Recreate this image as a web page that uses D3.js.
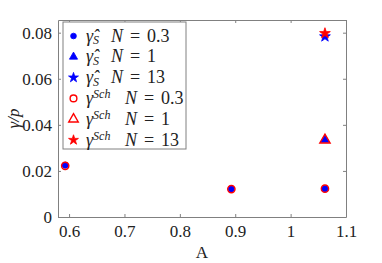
<!DOCTYPE html>
<html>
<head>
<meta charset="utf-8">
<script src="https://cdn.jsdelivr.net/npm/d3@7"></script>
<style>
  body { margin: 0; background: #fff; }
  text { font-family: "Liberation Serif", "DejaVu Serif", serif; fill: #222; }
</style>
</head>
<body>
<div id="chart"></div>
<script>
// values
const aN03 = [0.593, 0.893, 1.062];
const gHatN03 = [0.0225, 0.0122, 0.0123];
const gSchN03 = [0.0222, 0.0121, 0.0123];
const aN1 = [1.062];
const gHatN1 = [0.0335];
const gSchN1 = [0.0334];
const aN13 = [1.062];
const gHatN13 = [0.0783];
const gSchN13 = [0.0797];
const xTicks = [0.6, 0.7, 0.8, 0.9, 1, 1.1];
const yTicks = [0, 0.02, 0.04, 0.06, 0.08];
const nLabels = ['0.3', '1', '13'];

const W = 382, H = 263;
const m = {l: 58, r: 36, t: 20, b: 46};
const svg = d3.select('#chart').append('svg').attr('width', W).attr('height', H);

const x = d3.scaleLinear().domain([0.58, 1.1]).range([m.l, W - m.r]);
const y = d3.scaleLinear().domain([0, 0.0855]).range([H - m.b, m.t]);

const axisCol = '#808080';
const g = svg.append('g');

// box with inward ticks
const axB = g.append('g').attr('transform', `translate(0,${H - m.b})`)
	.call(d3.axisBottom(x).tickValues(xTicks).tickSizeInner(-3).tickSizeOuter(0).tickPadding(8).tickFormat(d3.format('')));
const axT = g.append('g').attr('transform', `translate(0,${m.t})`)
	.call(d3.axisTop(x).tickValues(xTicks).tickSizeInner(-3).tickSizeOuter(0).tickFormat(''));
const axL = g.append('g').attr('transform', `translate(${m.l},0)`)
	.call(d3.axisLeft(y).tickValues(yTicks).tickSizeInner(-3).tickSizeOuter(0).tickPadding(6).tickFormat(d3.format('')));
const axR = g.append('g').attr('transform', `translate(${W - m.r},0)`)
	.call(d3.axisRight(y).tickValues(yTicks).tickSizeInner(-3).tickSizeOuter(0).tickFormat(''));
[axB, axT, axL, axR].forEach(a => {
	a.select('.domain').attr('stroke', axisCol);
	a.selectAll('.tick line').attr('stroke', axisCol);
	a.selectAll('text').style('font-family', '"Liberation Serif", serif').style('font-size', '17px').attr('fill', '#222');
});

// axis labels
svg.append('text').attr('x', (m.l + W - m.r) / 2).attr('y', 258).attr('text-anchor', 'middle')
	.style('font-size', '17px').text('A');
svg.append('text').attr('transform', `translate(19,${(m.t + H - m.b) / 2}) rotate(-90)`).attr('text-anchor', 'middle')
	.style('font-size', '17px').style('font-style', 'italic').text('γ/p');

// markers
const blue = '#0000ff', red = '#ff0000';
const sym = {
	circle: d3.symbol().type(d3.symbolCircle),
	tri: d3.symbol().type(d3.symbolTriangle),
	star: d3.symbol().type(d3.symbolStar)
};
function drawMark(sel, kind, filled, col, k = 1) {
	const size = (kind === 'circle' ? (filled ? 30 : 42) : kind === 'tri' ? (filled ? 34 : 46) : 36) * k;
	sel.append('path').attr('d', sym[kind].size(size)())
		.attr('fill', filled ? col : 'none')
		.attr('stroke', col).attr('stroke-width', filled ? 0.8 : 1.4);
}
const series = [
	{xs: aN03, ys: gHatN03, kind: 'circle', filled: true, col: blue, hat: true, n: nLabels[0]},
	{xs: aN1, ys: gHatN1, kind: 'tri', filled: true, col: blue, hat: true, n: nLabels[1]},
	{xs: aN13, ys: gHatN13, kind: 'star', filled: true, col: blue, hat: true, n: nLabels[2]},
	{xs: aN03, ys: gSchN03, kind: 'circle', filled: false, col: red, hat: false, n: nLabels[0]},
	{xs: aN1, ys: gSchN1, kind: 'tri', filled: false, col: red, hat: false, n: nLabels[1]},
	{xs: aN13, ys: gSchN13, kind: 'star', filled: true, col: red, hat: false, n: nLabels[2]}
];
const plot = svg.append('g');
series.forEach(s => {
	s.xs.forEach((xv, i) => {
		const p = plot.append('g').attr('transform', `translate(${x(xv)},${y(s.ys[i])})`);
		drawMark(p, s.kind, s.filled, s.col);
	});
});

// legend
const lg = svg.append('g').attr('transform', 'translate(63,22)');
lg.append('rect').attr('width', 123).attr('height', 127).attr('fill', '#fff').attr('stroke', axisCol).attr('stroke-width', 1);
series.forEach((s, i) => {
	const row = lg.append('g').attr('transform', `translate(0,${14 + i * 20.8})`);
	const mk = row.append('g').attr('transform', 'translate(10.5,0)');
	drawMark(mk, s.kind, s.filled, s.col, 0.85);
	const nx = s.hat ? 48 : 62;
	const t = row.append('text').attr('x', 23).attr('y', 5.5).style('font-size', '18px');
	if (s.hat) {
		t.append('tspan').style('font-style', 'italic').text('γ\u0302');
		t.append('tspan').style('font-style', 'italic').style('font-size', '12px').attr('dy', 2.5).text('S');
	} else {
		t.append('tspan').style('font-style', 'italic').text('γ');
		t.append('tspan').style('font-style', 'italic').style('font-size', '12px').attr('dy', -5.5).text('Sch');
	}
	t.append('tspan').attr('x', nx).attr('y', 5.5).style('font-style', 'italic').text('N');
	t.append('tspan').attr('x', nx + 19).text('=');
	t.append('tspan').attr('x', nx + 36).text(s.n);
});
</script>
</body>
</html>
